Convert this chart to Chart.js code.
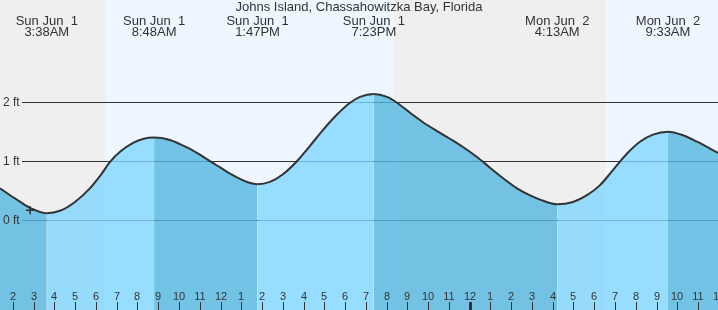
<!DOCTYPE html>
<html>
<head>
<meta charset="utf-8">
<script src="https://cdn.jsdelivr.net/npm/chart.js@4.4.1/dist/chart.umd.min.js"></script>
<style>
    html, body { margin: 0; padding: 0; background: #efefef; }
    #wrap { width: 718px; height: 310px; }
</style>
</head>
<body>
<div id="wrap"><canvas id="tideChart" width="718" height="310"></canvas></div>
<script>
// tide curve (hours since Sun midnight, feet)
var tideHours = [1.38, 2.10, 2.83, 3.633, 4.27, 4.99, 5.71, 6.20, 6.68, 7.16, 7.79, 8.30, 8.80,
    9.57, 10.05, 10.53, 11.01, 11.49, 12.00, 12.50, 12.94, 13.35, 13.783,
    14.38, 15.01, 15.68, 16.31, 16.94, 17.61, 18.24, 18.72, 19.383,
    20.02, 20.50, 21.13, 21.75, 22.43, 23.05, 23.68, 24.35, 24.98, 25.61, 26.28, 26.91, 27.39, 28.217,
    28.98, 29.65, 30.28, 30.90, 31.58, 32.20, 32.83, 33.55,
    34.27, 34.95, 35.96];
var tideFeet = [0.53, 0.36, 0.20, 0.11, 0.15, 0.30, 0.53, 0.74, 0.98, 1.15, 1.30, 1.37, 1.39,
    1.35, 1.28, 1.20, 1.10, 0.99, 0.88, 0.77, 0.69, 0.63, 0.60,
    0.64, 0.77, 0.99, 1.25, 1.52, 1.78, 1.98, 2.08, 2.13,
    2.08, 1.98, 1.81, 1.65, 1.50, 1.37, 1.23, 1.06, 0.88, 0.70, 0.53, 0.41, 0.34, 0.26,
    0.30, 0.415, 0.585, 0.84, 1.12, 1.32, 1.44, 1.49,
    1.43, 1.32, 1.13];

// high / low labels along the top
var extremeHours = [3.633, 8.8, 13.783, 19.383, 28.217, 33.55];
var extremeDays = ['Sun Jun  1', 'Sun Jun  1', 'Sun Jun  1', 'Sun Jun  1', 'Mon Jun  2', 'Mon Jun  2'];
var extremeTimes = ['3:38AM', '8:48AM', '1:47PM', '7:23PM', '4:13AM', '9:33AM'];

// daylight spans (sunrise, sunset)
var dayStarts = [6.44, 30.52];
var dayEnds = [20.36, 36];

// now marker
var nowHour = [2.83];
var nowFeet = [0.16];

var hourTicks = [2, 3, 4, 5, 6, 7, 8, 9, 10, 11, 12, 13, 14, 15, 16, 17, 18, 19, 20, 21, 22, 23,
    24, 25, 26, 27, 28, 29, 30, 31, 32, 33, 34, 35, 36];
var feetTicks = [0, 1, 2];
var feetLabels = ['0 ft', '1 ft', '2 ft'];

var title = 'Johns Island, Chassahowitzka Bay, Florida';

var FONT = '"Liberation Sans", Arial, sans-serif';
var NIGHT = '#efefef';
var DAY = '#eef7ff';
var RISING = 'rgba(129, 214, 255, 0.8)';
var FALLING = 'rgba(84, 181, 224, 0.8)';

var tidePlugin = {
    id: 'tideDecor',
    beforeDraw: function (chart) {
        var ctx = chart.ctx;
        var x = chart.scales.x;
        ctx.save();
        ctx.fillStyle = NIGHT;
        ctx.fillRect(0, 0, chart.width, chart.height);
        ctx.fillStyle = DAY;
        for (let i = 0; i < dayStarts.length; i++) {
            var x0 = Math.round(x.getPixelForValue(dayStarts[i]));
            var x1 = Math.round(x.getPixelForValue(dayEnds[i]));
            ctx.fillRect(x0, 0, x1 - x0, chart.height);
        }
        ctx.restore();
    },
    beforeDatasetsDraw: function (chart) {
        var ctx = chart.ctx;
        var y = chart.scales.y;
        ctx.save();
        ctx.strokeStyle = '#333';
        ctx.lineWidth = 1;
        for (let i = 0; i < feetTicks.length; i++) {
            var py = Math.round(y.getPixelForValue(feetTicks[i])) + 0.5;
            ctx.beginPath();
            ctx.moveTo(22, py);
            ctx.lineTo(chart.width, py);
            ctx.stroke();
        }
        ctx.restore();
    },
    afterDatasetsDraw: function (chart) {
        var ctx = chart.ctx;
        var x = chart.scales.x;
        var y = chart.scales.y;
        ctx.save();
        ctx.fillStyle = '#333';

        // feet labels
        ctx.font = '12px ' + FONT;
        ctx.textAlign = 'left';
        ctx.textBaseline = 'middle';
        for (let i = 0; i < feetTicks.length; i++) {
            ctx.fillText(feetLabels[i], 3, y.getPixelForValue(feetTicks[i]) + 1);
        }

        // hour labels and tick marks
        ctx.font = '11px ' + FONT;
        ctx.textAlign = 'center';
        ctx.textBaseline = 'alphabetic';
        ctx.strokeStyle = '#333';
        for (let i = 0; i < hourTicks.length; i++) {
            var h = hourTicks[i];
            var px = Math.round(x.getPixelForValue(h));
            ctx.fillText(String(h % 12 || 12), px, 299.5);
            ctx.lineWidth = (h % 24 === 0) ? 3 : 1;
            ctx.beginPath();
            ctx.moveTo(px + 0.5, 302);
            ctx.lineTo(px + 0.5, 310);
            ctx.stroke();
        }

        // title and extreme labels
        ctx.font = '13px ' + FONT;
        ctx.fillText(title, chart.width / 2, 11);
        for (let i = 0; i < extremeHours.length; i++) {
            var ex = x.getPixelForValue(extremeHours[i]);
            ctx.fillText(extremeDays[i], ex, 24.5);
            ctx.fillText(extremeTimes[i], ex, 36);
        }
        ctx.restore();
    }
};

var tidePoints = [];
for (let i = 0; i < tideHours.length; i++) {
    tidePoints.push({ x: tideHours[i], y: tideFeet[i] });
}

var ctx = document.getElementById('tideChart').getContext('2d');
var tideChart = new Chart(ctx, {
    type: 'line',
    data: {
        datasets: [{
            // now marker
            type: 'scatter',
            data: [{ x: nowHour[0], y: nowFeet[0] }],
            pointStyle: 'cross',
            radius: 4,
            borderColor: '#333',
            borderWidth: 1.5,
            showLine: false
        }, {
            data: tidePoints,
            borderColor: '#333',
            borderWidth: 2,
            pointRadius: 0,
            cubicInterpolationMode: 'monotone',
            fill: 'start',
            backgroundColor: RISING,
            segment: {
                backgroundColor: function (c) {
                    return c.p1.parsed.y >= c.p0.parsed.y ? RISING : FALLING;
                }
            }
        }]
    },
    options: {
        responsive: false,
        animation: false,
        devicePixelRatio: 1,
        layout: { padding: 0, autoPadding: false },
        plugins: {
            legend: { display: false },
            tooltip: { enabled: false }
        },
        scales: {
            x: { type: 'linear', min: 1.38, max: 35.96, display: false },
            y: { min: -1.53, max: 3.72, display: false }
        }
    },
    plugins: [tidePlugin]
});
</script>
</body>
</html>
